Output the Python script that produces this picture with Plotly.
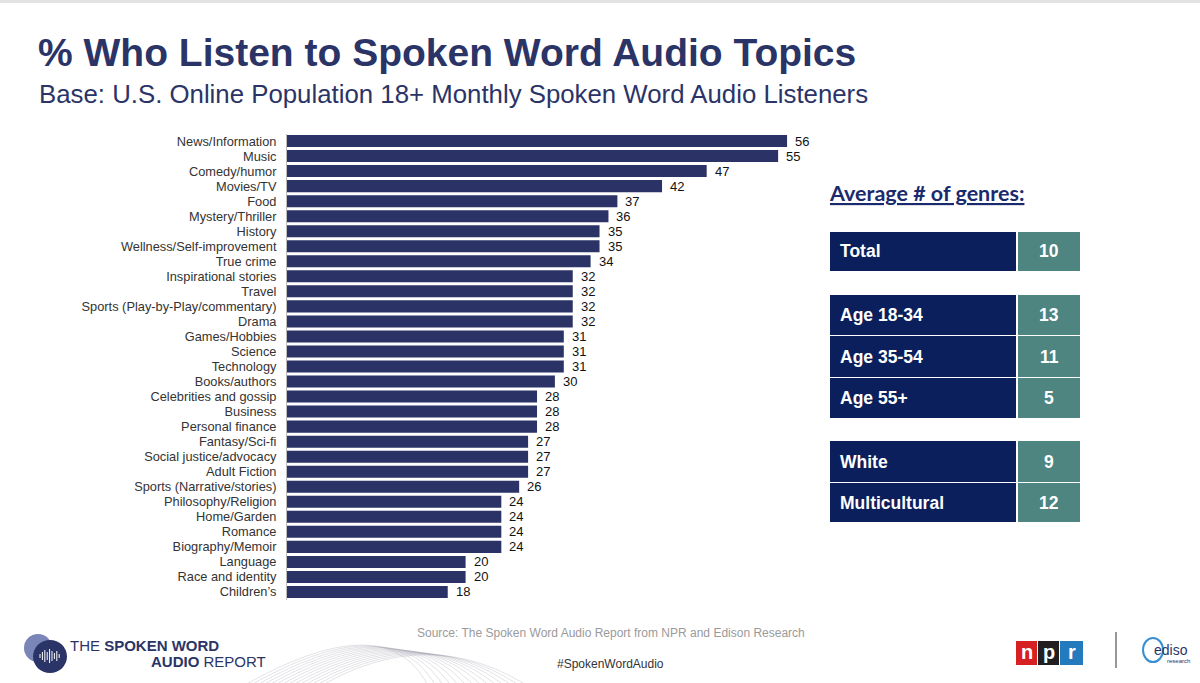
import plotly.graph_objects as go

categories = ["News/Information", "Music", "Comedy/humor", "Movies/TV", "Food",
              "Mystery/Thriller", "History", "Wellness/Self-improvement", "True crime",
              "Inspirational stories", "Travel", "Sports (Play-by-Play/commentary)", "Drama",
              "Games/Hobbies", "Science", "Technology", "Books/authors",
              "Celebrities and gossip", "Business", "Personal finance", "Fantasy/Sci-fi",
              "Social justice/advocacy", "Adult Fiction", "Sports (Narrative/stories)",
              "Philosophy/Religion", "Home/Garden", "Romance", "Biography/Memoir",
              "Language", "Race and identity", "Children\u2019s"]
values = [56, 55, 47, 42, 37, 36, 35, 35, 34, 32, 32, 32, 32, 31, 31, 31, 30,
          28, 28, 28, 27, 27, 27, 26, 24, 24, 24, 24, 20, 20, 18]

table_labels = ["Total", "Age 18-34", "Age 35-54", "Age 55+", "White", "Multicultural"]
table_values = [10, 13, 11, 5, 9, 12]

W, H = 1200, 683
NAVY = "#2b3266"

def px(x):
    return x / W

def py(y):
    return 1 - y / H

fig = go.Figure()
fig.add_trace(go.Bar(
    x=values, y=categories, orientation="h",
    marker=dict(color=NAVY, line=dict(width=0)),
    hoverinfo="skip", showlegend=False,
))

annotations = []
for c, v in zip(categories, values):
    annotations.append(dict(x=v, y=c, xref="x", yref="y", text=str(v), showarrow=False,
                            xanchor="left", xshift=6,
                            font=dict(family="Liberation Sans, Arial", size=13, color="#111")))

# Title & subtitle
annotations.append(dict(x=px(36), y=py(52), xref="paper", yref="paper", xanchor="left", yanchor="middle",
                        text="<b>% Who Listen to Spoken Word Audio Topics</b>", showarrow=False,
                        font=dict(family="Liberation Sans, Arial", size=39, color="#2b3467")))
annotations.append(dict(x=px(37), y=py(94), xref="paper", yref="paper", xanchor="left", yanchor="middle",
                        text="Base: U.S. Online Population 18+ Monthly Spoken Word Audio Listeners", showarrow=False,
                        font=dict(family="Liberation Sans, Arial", size=25.8, color="#2b3467")))

# Table header
annotations.append(dict(x=px(827), y=py(193), xref="paper", yref="paper", xanchor="left", yanchor="middle",
                        text="<b><u>Average # of genres:</u></b>", showarrow=False,
                        font=dict(family="Lato, Carlito, sans-serif", size=21.5, color="#1a2a6c")))

shapes = []

# decorative wave lines behind footer
for i in range(14):
    x0 = 236 + i * 6
    peak_x = 390 + i * 3
    peak_y = 640 + i * 1.5
    x1 = 430 + i * 8
    shapes.append(dict(type="path", xref="paper", yref="paper",
                       path="M {},{} Q {},{} {},{}".format(px(x0), py(690), px(peak_x), py(peak_y - 40), px(x1), py(690)),
                       line=dict(color="rgba(150,150,165,0.45)", width=0.6), layer="below"))

rows_y = [(232, 271), (295, 335), (336, 377), (378, 418), (441, 482), (483, 522)]
for (y0, y1), lab, val in zip(rows_y, table_labels, table_values):
    shapes.append(dict(type="rect", xref="paper", yref="paper", x0=px(830), x1=px(1016),
                       y0=py(y1), y1=py(y0), fillcolor="#0b1f5c", line=dict(width=0), layer="above"))
    shapes.append(dict(type="rect", xref="paper", yref="paper", x0=px(1018), x1=px(1080),
                       y0=py(y1), y1=py(y0), fillcolor="#4e8580", line=dict(width=0), layer="above"))
    ym = (y0 + y1) / 2
    annotations.append(dict(x=px(838), y=py(ym), xref="paper", yref="paper", xanchor="left", yanchor="middle",
                            text="<b>" + lab + "</b>", showarrow=False,
                            font=dict(family="Liberation Sans, Arial", size=17.5, color="white")))
    annotations.append(dict(x=px(1049), y=py(ym), xref="paper", yref="paper", xanchor="center", yanchor="middle",
                            text="<b>" + str(val) + "</b>", showarrow=False,
                            font=dict(family="Liberation Sans, Arial", size=17.5, color="white")))

# top thin grey band
shapes.append(dict(type="rect", xref="paper", yref="paper", x0=0, x1=1, y0=py(3), y1=1,
                   fillcolor="#e3e3e3", line=dict(width=0)))

# Footer
annotations.append(dict(x=px(611), y=py(633), xref="paper", yref="paper", xanchor="center", yanchor="middle",
                        text="Source: The Spoken Word Audio Report from NPR and Edison Research", showarrow=False,
                        font=dict(family="Liberation Sans, Arial", size=12, color="#9a9a9a")))
annotations.append(dict(x=px(610), y=py(664), xref="paper", yref="paper", xanchor="center", yanchor="middle",
                        text="#SpokenWordAudio", showarrow=False,
                        font=dict(family="Liberation Sans, Arial", size=12, color="#333")))

# Spoken word logo
shapes.append(dict(type="circle", xref="paper", yref="paper", x0=px(24), x1=px(52), y0=py(662), y1=py(634),
                   fillcolor="#7a86b8", line=dict(width=0)))
shapes.append(dict(type="circle", xref="paper", yref="paper", x0=px(33), x1=px(67), y0=py(673), y1=py(640),
                   fillcolor="#2b3467", line=dict(width=0)))
for i, hh in enumerate([4, 8, 12, 8, 14, 10, 6, 10, 4]):
    xx = 40 + i * 2.4
    shapes.append(dict(type="line", xref="paper", yref="paper", x0=px(xx), x1=px(xx),
                       y0=py(656 - hh / 2), y1=py(656 + hh / 2), line=dict(color="white", width=1)))
annotations.append(dict(x=px(68), y=py(645), xref="paper", yref="paper", xanchor="left", yanchor="middle",
                        text="THE <b>SPOKEN WORD</b>", showarrow=False,
                        font=dict(family="Liberation Sans, Arial", size=15, color="#2b3467")))
annotations.append(dict(x=px(149), y=py(661), xref="paper", yref="paper", xanchor="left", yanchor="middle",
                        text="<b>AUDIO</b> REPORT", showarrow=False,
                        font=dict(family="Liberation Sans, Arial", size=15, color="#2b3467")))

# NPR logo
for (x0, x1, col, letter) in [(1016, 1037, "#d62021", "n"), (1038, 1059, "#231f20", "p"), (1060, 1083, "#237bbd", "r")]:
    shapes.append(dict(type="rect", xref="paper", yref="paper", x0=px(x0), x1=px(x1), y0=py(665), y1=py(641),
                       fillcolor=col, line=dict(width=0)))
    annotations.append(dict(x=px((x0 + x1) / 2), y=py(652), xref="paper", yref="paper", xanchor="center",
                            yanchor="middle", text="<b>" + letter + "</b>", showarrow=False,
                            font=dict(family="Liberation Sans, Arial", size=20, color="white")))
shapes.append(dict(type="line", xref="paper", yref="paper", x0=px(1116), x1=px(1116), y0=py(668), y1=py(632),
                   line=dict(color="#333", width=1)))
# Edison logo (partial)
shapes.append(dict(type="circle", xref="paper", yref="paper", x0=px(1143), x1=px(1163), y0=py(662), y1=py(638),
                   fillcolor="rgba(0,0,0,0)", line=dict(color="#3a8fd0", width=2)))
annotations.append(dict(x=px(1152), y=py(650), xref="paper", yref="paper", xanchor="left", yanchor="middle",
                        text="ediso", showarrow=False,
                        font=dict(family="Liberation Sans, Arial", size=14, color="#2b3467")))
annotations.append(dict(x=px(1165), y=py(661), xref="paper", yref="paper", xanchor="left", yanchor="middle",
                        text="research", showarrow=False,
                        font=dict(family="Liberation Sans, Arial", size=6, color="#2b3467")))

fig.update_layout(
    width=W, height=H,
    margin=dict(l=0, r=0, t=0, b=0),
    paper_bgcolor="white", plot_bgcolor="white",
    bargap=0.2,
    xaxis=dict(domain=[px(287), px(800)], range=[0, 57.45], visible=False, fixedrange=True),
    yaxis=dict(domain=[py(599.5), py(133.5)], autorange=False, range=[len(categories) - 0.5, -0.5],
               categoryorder="array", categoryarray=categories,
               showline=True, linecolor="#bcbcbc", linewidth=1, ticks="", showgrid=False,
               ticklabelstandoff=7,
               tickfont=dict(family="Liberation Sans, Arial", size=12.8, color="#333"), fixedrange=True),
    annotations=annotations,
    shapes=shapes,
    font=dict(family="Liberation Sans, Arial"),
)

fig.write_html("out.html")
